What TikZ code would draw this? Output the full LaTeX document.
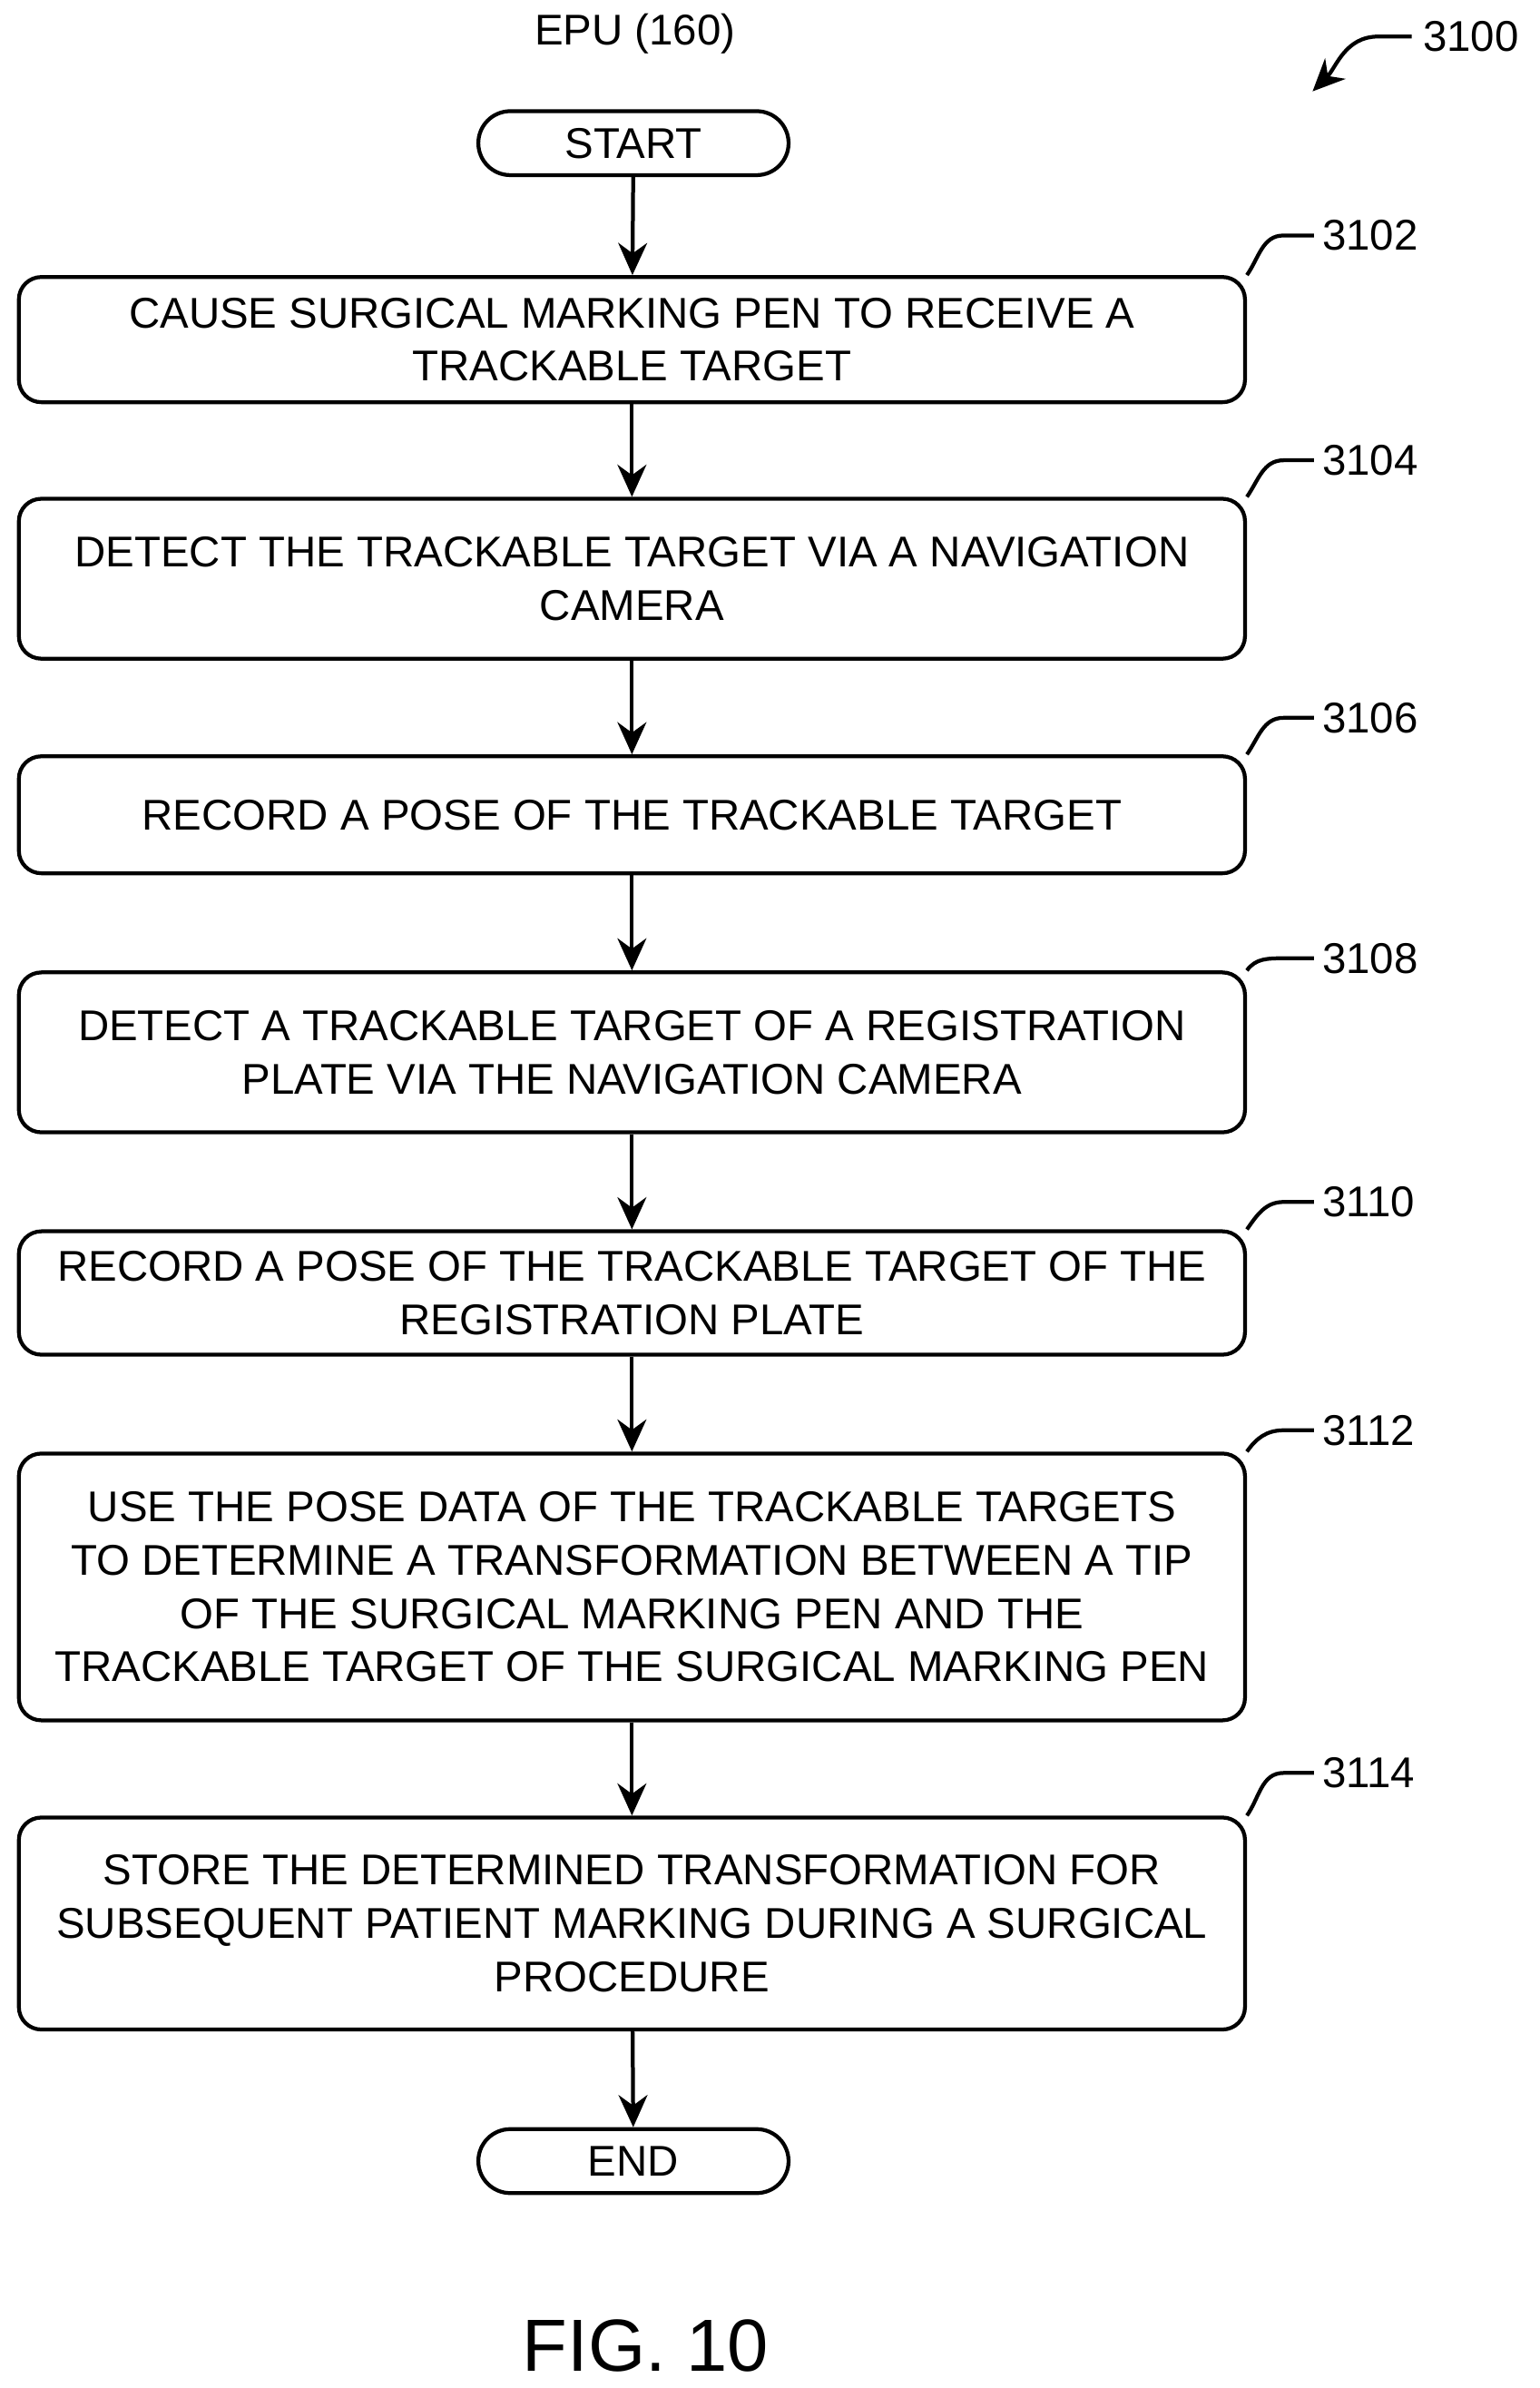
\documentclass[tikz,border=0pt]{standalone}
\usepackage{fontspec}
\setmainfont{Liberation Sans}
\usetikzlibrary{shapes, arrows.meta, calc}

\begin{document}
\begin{tikzpicture}[x=1cm/60, y=-1cm/60, font=\fontsize{13.4}{16.6}\selectfont]
	\tikzstyle{stepnode}=[
	draw,
	line width=1.2pt,
	rectangle,
	rounded corners=7pt,
	minimum width=13.42cm,
	align=center,
	inner sep=0pt
	]
	\tikzstyle{termnode}=[
	draw,
	line width=1.2pt,
	rounded rectangle,
	minimum width=3.63cm,
	minimum height=0.7cm
	]
	\tikzstyle{flow}=[line width=1.2pt, -{Stealth[length=10pt, width=9pt]}]
	\tikzstyle{leader}=[line width=1.2pt]
	\useasboundingbox (0,0) rectangle (1011,1568);
	\node (epu) at (417,22) {EPU (160)};
	\node[termnode] (start) at (416,94) {START};
	\node[stepnode, minimum height=1.37cm] (s3102) at (415,223) {CAUSE SURGICAL MARKING PEN TO RECEIVE A\\ TRACKABLE TARGET};
	\node[stepnode, minimum height=1.75cm] (s3104) at (415,380) {DETECT THE TRACKABLE TARGET VIA A NAVIGATION\\ CAMERA};
	\node[stepnode, minimum height=1.28cm] (s3106) at (415,535) {RECORD A POSE OF THE TRACKABLE TARGET};
	\node[stepnode, minimum height=1.75cm] (s3108) at (415,691) {DETECT A TRACKABLE TARGET OF A REGISTRATION\\ PLATE VIA THE NAVIGATION CAMERA};
	\node[stepnode, minimum height=1.35cm] (s3110) at (415,849) {RECORD A POSE OF THE TRACKABLE TARGET OF THE\\ REGISTRATION PLATE};
	\node[stepnode, minimum height=2.92cm] (s3112) at (415,1042) {USE THE POSE DATA OF THE TRACKABLE TARGETS\\ TO DETERMINE A TRANSFORMATION BETWEEN A TIP\\ OF THE SURGICAL MARKING PEN AND THE\\ TRACKABLE TARGET OF THE SURGICAL MARKING PEN};
	\node[stepnode, minimum height=2.32cm] (s3114) at (415,1263) {STORE THE DETERMINED TRANSFORMATION FOR\\ SUBSEQUENT PATIENT MARKING DURING A SURGICAL\\ PROCEDURE};
	\node[termnode] (end) at (416,1419) {END};
	\node[font=\fontsize{23}{27}\selectfont] (fig) at (424,1540) {FIG. 10};
	%
	\foreach \a/\b in {start/s3102, s3102/s3104, s3104/s3106, s3106/s3108, s3108/s3110, s3110/s3112, s3112/s3114, s3114/end}
	\draw[flow] (\a) -- (\b);
	%
	\foreach \n/\dy in {3102/26, 3104/24, 3106/24, 3108/8, 3110/18, 3112/14, 3114/28}
	\draw[leader] (s\n.north east) to[out=55, in=180] ++(24,-\dy) -- ++(20,0) node[right, inner sep=2pt] (l\n) {\n};
	%
	\node (l3100) at (966,24) {3100};
	\coordinate (a3100) at (862,60);
	\draw[flow] (l3100.west) -- ++(-22,0) to[out=180, in=45] (a3100);
\end{tikzpicture}
\end{document}
